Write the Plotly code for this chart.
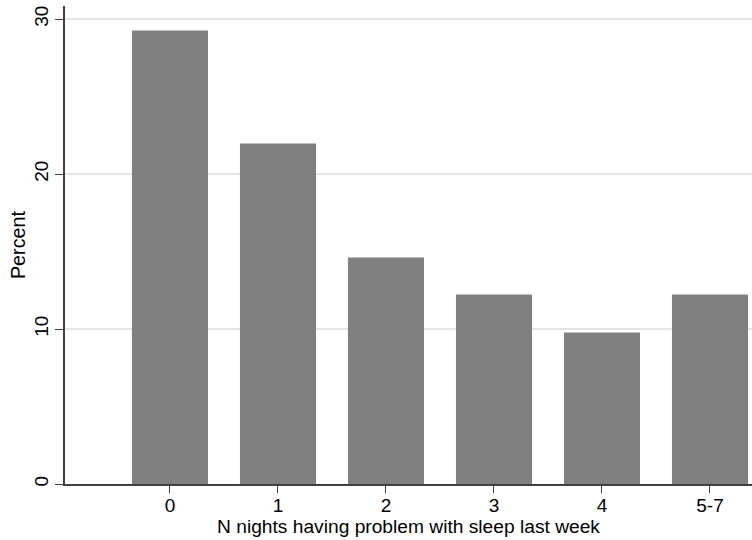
import plotly.graph_objects as go

# Share of respondents by number of nights with sleep problems in the last week
categories = ["0", "1", "2", "3", "4", "5-7"]
percent = [29.26, 21.97, 14.61, 12.23, 9.77, 12.23]
y_ticks = [0, 10, 20, 30]

positions = list(range(len(categories)))

fig = go.Figure(
    go.Bar(
        x=positions,
        y=percent,
        width=0.704,
        marker=dict(color="#808080", line=dict(width=0)),
        hoverinfo="skip",
    )
)

font = "Liberation Sans, Arial, sans-serif"

fig.update_layout(
    width=752,
    height=540,
    margin=dict(l=65, r=0, t=6, b=56),
    paper_bgcolor="white",
    plot_bgcolor="white",
    showlegend=False,
    font=dict(family=font, size=19, color="black"),
    xaxis=dict(
        range=[-0.972, 5.389],
        tickmode="array",
        tickvals=positions,
        ticktext=categories,
        ticks="outside",
        ticklen=7,
        tickcolor="#404040",
        showline=True,
        linecolor="#404040",
        linewidth=1.5,
        showgrid=False,
        zeroline=False,
        title=dict(text="N nights having problem with sleep last week", standoff=0,
                   font=dict(family=font, size=19.2, color="black")),
        tickfont=dict(family=font, size=19, color="black"),
    ),
    yaxis=dict(
        range=[0, 30.84],
        tickmode="array",
        tickvals=y_ticks,
        ticks="outside",
        ticklen=8,
        tickcolor="#404040",
        tickangle=-90,
        showline=True,
        linecolor="#404040",
        linewidth=1.5,
        showgrid=True,
        gridcolor="#e4e4e4",
        gridwidth=1.5,
        zeroline=False,
        title=dict(text="Percent", standoff=0,
                   font=dict(family=font, size=19.8, color="black")),
        tickfont=dict(family=font, size=19, color="black"),
    ),
)

# Pull the category labels a little closer to the axis line
try:
    fig.update_xaxes(ticklabelstandoff=-4)
except ValueError:
    pass

fig.write_html("out.html")
